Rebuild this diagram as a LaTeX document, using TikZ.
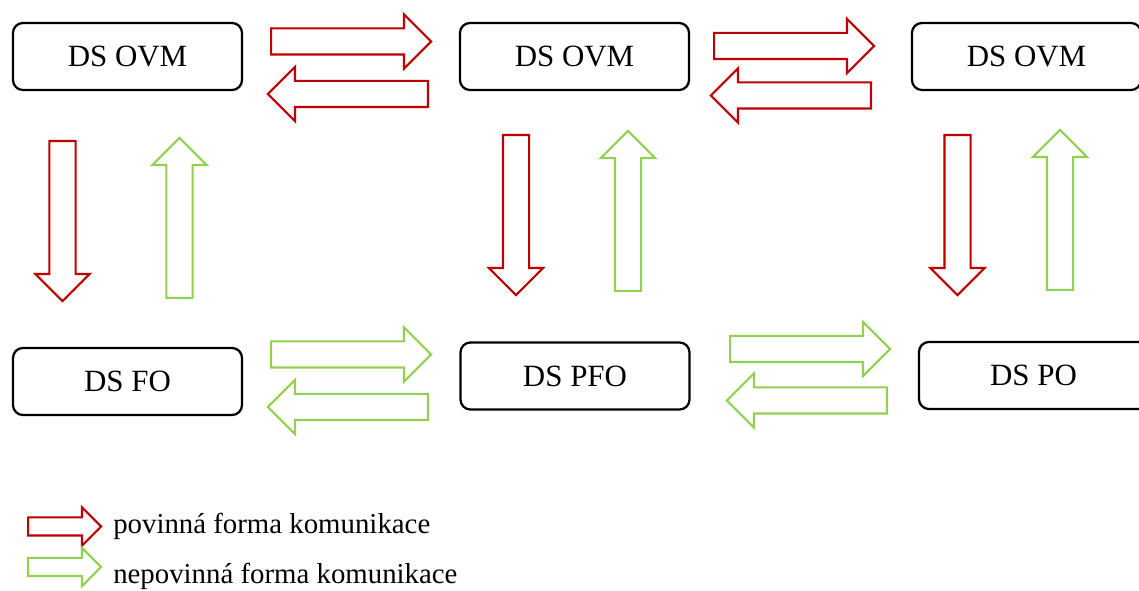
\documentclass[tikz,border=0pt]{standalone}
\usepackage{fontspec}
\setmainfont{Liberation Serif}
\usetikzlibrary{shapes.arrows}
\definecolor{mustred}{HTML}{C00000}
\definecolor{optgreen}{HTML}{92D050}

\begin{document}
\begin{tikzpicture}[x=0.025cm,y=0.025cm,
  dsbox/.style={draw,line width=1.6pt,rounded corners=0.25cm,minimum width=5.725cm,minimum height=1.675cm,inner sep=0pt,font=\fontsize{22}{26}\selectfont},
  blockarrow/.style={single arrow,draw,line width=1.5pt,inner xsep=0pt,inner ysep=0.3cm,minimum height=4cm,single arrow head extend=0.35cm,single arrow tip angle=90,anchor=tail},
  keyarrow/.style={blockarrow,inner ysep=0.2cm,minimum height=1.825cm,single arrow head extend=0.25cm},
  keytext/.style={anchor=base west,inner sep=0pt,font=\fontsize{20.5}{24}\selectfont}]
\useasboundingbox (0,0) rectangle (1139,591);
% data boxes: authorities on top, persons below
\node[dsbox] (ovmA) at (127.5,534.5) {DS OVM};
\node[dsbox] (ovmB) at (574.5,534.5) {DS OVM};
\node[dsbox] (ovmC) at (1026.5,534.5) {DS OVM};
\node[dsbox] (fo) at (127.5,209.5) {DS FO};
\node[dsbox] (pfo) at (575,215) {DS PFO};
\node[dsbox] (po) at (1033.5,215.5) {DS PO};
% block arrows, placed by their tails
\foreach \x/\y/\dir/\col [count=\i] in {270/549.5/0/mustred,429/497/180/mustred,713/545/0/mustred,872/495.5/180/mustred,
  62.5/451/270/mustred,179.5/292/90/optgreen,516/457/270/mustred,628/299/90/optgreen,957.5/457/270/mustred,1060/300/90/optgreen,
  270/236.5/0/optgreen,429/184/180/optgreen,729/242/0/optgreen,888/190.5/180/optgreen}{
  \node[blockarrow,draw=\col,rotate=\dir] (arr\i) at (\x,\y) {};
}
% legend
\node[keyarrow,draw=mustred] (keyMust) at (27,64.5) {};
\node[keyarrow,draw=optgreen] (keyOpt) at (27,24) {};
\node[keytext] (keyMustText) at (113,57) {povinná forma komunikace};
\node[keytext] (keyOptText) at (113,7.5) {nepovinná forma komunikace};
\end{tikzpicture}
\end{document}
